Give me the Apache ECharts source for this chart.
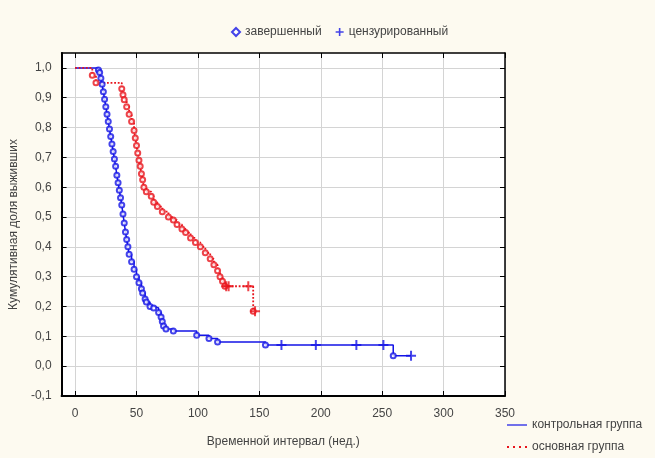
<!DOCTYPE html>
<html>
<head>
<meta charset="utf-8">
<script src="https://cdn.jsdelivr.net/npm/echarts@6/dist/echarts.min.js"></script>
<style>
  html, body { margin: 0; padding: 0; background: #fdfaf0; }
  #chart { width: 655px; height: 458px; }
</style>
</head>
<body>
<div id="chart"></div>
<script>
// контрольная группа: [время, доля выживших] после каждого события
const controlEvents = [
  [19, 0.993], [20, 0.985], [21, 0.965], [22, 0.945], [23, 0.92], [24, 0.895],
  [25, 0.87], [26, 0.845], [27, 0.82], [28, 0.795], [29, 0.77], [30, 0.745],
  [31, 0.72], [32, 0.695], [33, 0.67], [34, 0.64], [35, 0.615], [36, 0.59],
  [37, 0.565], [38, 0.54], [39, 0.51], [40, 0.48], [41, 0.45], [42, 0.425],
  [43, 0.40], [44, 0.375], [46, 0.35], [48, 0.325], [50, 0.30], [52, 0.28],
  [54, 0.26], [55, 0.245], [57, 0.225], [58, 0.215], [61, 0.20], [64, 0.195],
  [68, 0.18], [70, 0.165], [71, 0.15], [72, 0.135], [74, 0.125], [80, 0.118],
  [99, 0.104], [109, 0.093], [116, 0.081], [155, 0.071], [259, 0.035]
]
const controlCensored = [[168, 0.071], [196, 0.071], [229, 0.071], [251, 0.071], [273.5, 0.035]]

// основная группа
const mainEvents = [
  [14, 0.975], [17, 0.95], [38, 0.93], [39, 0.91], [40, 0.893], [42, 0.87],
  [44, 0.845], [46, 0.82], [48, 0.79], [49, 0.765], [50, 0.74], [51, 0.715],
  [52, 0.69], [53, 0.67], [54, 0.645], [55, 0.625], [56, 0.60], [58, 0.585],
  [62, 0.57], [64, 0.55], [67, 0.535], [71, 0.518], [76, 0.50], [80, 0.49],
  [83, 0.475], [87, 0.46], [90, 0.448], [94, 0.43], [98, 0.415], [102, 0.40],
  [106, 0.38], [110, 0.36], [113, 0.34], [116, 0.32], [118, 0.30], [120, 0.285],
  [122, 0.268], [145, 0.184]
]
const mainCensored = [[123, 0.268], [125, 0.268], [141, 0.268], [146.5, 0.184]]

const xTicks = [0, 50, 100, 150, 200, 250, 300, 350]
const yTicks = [-0.1, 0, 0.1, 0.2, 0.3, 0.4, 0.5, 0.6, 0.7, 0.8, 0.9, 1.0]

const blue = '#1414e6'
const red = '#e8141c'
const font = '"Liberation Sans Narrow", "Liberation Sans", Arial, sans-serif'
const plus = 'path://M4,0 L6,0 L6,4 L10,4 L10,6 L6,6 L6,10 L4,10 L4,6 L0,6 L0,4 L4,4 Z'
const solidIcon = 'path://M0,4.4 L20,4.4 L20,5.6 L0,5.6 Z'
const dotIcon = 'path://M0,4 L2,4 L2,6 L0,6 Z M6,4 L8,4 L8,6 L6,6 Z M12,4 L14,4 L14,6 L12,6 Z M18,4 L20,4 L20,6 L18,6 Z'

// кривая: старт в 1,0, события, последний цензурированный
const curve = (events, censored) => {
  const last = censored[censored.length - 1]
  return [[0, 1.0]].concat(events, [last])
}

const legendText = { fontSize: 12, color: '#444', fontFamily: font }

const chart = echarts.init(document.getElementById('chart'))
chart.setOption({
  backgroundColor: '#fdfaf0',
  textStyle: { fontFamily: font, color: '#444' },
  grid: {
    left: 61, right: 150, top: 53, bottom: 62,
    show: true, backgroundColor: '#ffffff', borderWidth: 0,
  },
  legend: [
    {
      data: [
        { name: 'завершенный', icon: 'emptyDiamond' },
        { name: 'цензурированный', icon: plus },
      ],
      left: 226, top: 21,
      itemWidth: 8, itemHeight: 8, itemGap: 14,
      textStyle: legendText,
    },
    {
      data: [{ name: 'контрольная группа', icon: solidIcon }],
      left: 507, top: 419, padding: 0,
      itemWidth: 20, itemHeight: 10,
      textStyle: legendText,
    },
    {
      data: [{ name: 'основная группа', icon: dotIcon }],
      left: 507, top: 441, padding: 0,
      itemWidth: 20, itemHeight: 10,
      textStyle: legendText,
    },
  ],
  xAxis: [
    {
      type: 'value', min: -11, max: 350,
      name: 'Временной интервал (нед.)', nameLocation: 'middle', nameGap: 40,
      nameTextStyle: { fontSize: 12, color: '#444' },
      axisLine: { onZero: false, lineStyle: { color: '#000', width: 2 } },
      axisTick: { inside: true, length: 5, customValues: xTicks, lineStyle: { color: '#000' } },
      axisLabel: { customValues: xTicks, margin: 12, fontSize: 12, color: '#444' },
      splitLine: { show: true, lineStyle: { color: '#d4d4d4', width: 1 } },
    },
    {
      type: 'value', min: -11, max: 350, position: 'top',
      axisLine: { onZero: false, lineStyle: { color: '#000', width: 1.5 } },
      axisTick: { inside: true, length: 5, customValues: xTicks, lineStyle: { color: '#000' } },
      axisLabel: { show: false },
      splitLine: { show: false },
    },
  ],
  yAxis: [
    {
      type: 'value', min: -0.1, max: 1.05,
      name: 'Кумулятивная доля выживших', nameLocation: 'middle', nameGap: 40,
      nameTextStyle: { fontSize: 12, color: '#444' },
      axisLine: { show: true, onZero: false, lineStyle: { color: '#000', width: 2 } },
      axisTick: { show: true, inside: true, length: 5, customValues: yTicks, lineStyle: { color: '#000' } },
      axisLabel: {
        customValues: yTicks, margin: 10, fontSize: 12, color: '#444',
        formatter: (v) => v.toFixed(1).replace('.', ','),
      },
      splitLine: { show: true, lineStyle: { color: '#d4d4d4', width: 1 } },
    },
    {
      type: 'value', min: -0.1, max: 1.05, position: 'right',
      axisLine: { show: true, onZero: false, lineStyle: { color: '#000', width: 1.5 } },
      axisTick: { show: true, inside: true, length: 5, customValues: yTicks, lineStyle: { color: '#000' } },
      axisLabel: { show: false },
      splitLine: { show: false },
    },
  ],
  series: [
    {
      name: 'контрольная группа', type: 'line', step: 'end', symbol: 'none',
      data: curve(controlEvents, controlCensored),
      lineStyle: { color: blue, width: 1.5 }, itemStyle: { color: blue },
      z: 3,
    },
    {
      name: 'основная группа', type: 'line', step: 'end', symbol: 'none',
      data: curve(mainEvents, mainCensored),
      lineStyle: { color: red, width: 1.8, type: 'dotted' }, itemStyle: { color: red },
      z: 3,
    },
    {
      name: 'завершенный', type: 'scatter', data: controlEvents,
      symbol: 'emptyCircle', symbolSize: 5,
      itemStyle: { color: blue, borderColor: blue, borderWidth: 1.2 }, z: 4,
    },
    {
      name: 'завершенный', type: 'scatter', data: mainEvents,
      symbol: 'emptyCircle', symbolSize: 5,
      itemStyle: { color: red, borderColor: red, borderWidth: 1 }, z: 4,
    },
    {
      name: 'цензурированный', type: 'scatter', data: controlCensored,
      symbol: plus, symbolSize: 10,
      itemStyle: { color: blue }, z: 4,
    },
    {
      name: 'цензурированный', type: 'scatter', data: mainCensored,
      symbol: plus, symbolSize: 10,
      itemStyle: { color: red }, z: 4,
    },
  ],
})
</script>
</body>
</html>
